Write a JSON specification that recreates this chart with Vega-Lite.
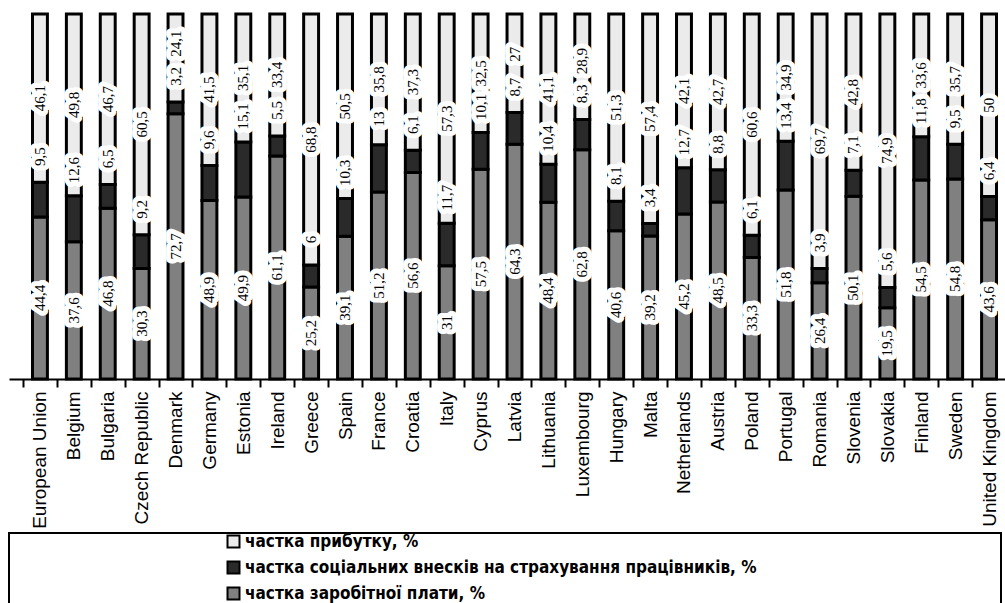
{
  "$schema": "https://vega.github.io/schema/vega-lite/v6.json",
  "padding": {"left": 0, "top": 12, "right": 0, "bottom": 0},
  "spacing": 3,
  "background": "white",
  "config": {"view": {"stroke": null}},
  "data": {"values": [
    {"c": "European Union", "w": 44.4, "s": 9.5, "p": 46.1},
    {"c": "Belgium", "w": 37.6, "s": 12.6, "p": 49.8},
    {"c": "Bulgaria", "w": 46.8, "s": 6.5, "p": 46.7},
    {"c": "Czech Republic", "w": 30.3, "s": 9.2, "p": 60.5},
    {"c": "Denmark", "w": 72.7, "s": 3.2, "p": 24.1},
    {"c": "Germany", "w": 48.9, "s": 9.6, "p": 41.5},
    {"c": "Estonia", "w": 49.9, "s": 15.1, "p": 35.1},
    {"c": "Ireland", "w": 61.1, "s": 5.5, "p": 33.4},
    {"c": "Greece", "w": 25.2, "s": 6, "p": 68.8},
    {"c": "Spain", "w": 39.1, "s": 10.3, "p": 50.5},
    {"c": "France", "w": 51.2, "s": 13, "p": 35.8},
    {"c": "Croatia", "w": 56.6, "s": 6.1, "p": 37.3},
    {"c": "Italy", "w": 31, "s": 11.7, "p": 57.3},
    {"c": "Cyprus", "w": 57.5, "s": 10.1, "p": 32.5},
    {"c": "Latvia", "w": 64.3, "s": 8.7, "p": 27},
    {"c": "Lithuania", "w": 48.4, "s": 10.4, "p": 41.1},
    {"c": "Luxembourg", "w": 62.8, "s": 8.3, "p": 28.9},
    {"c": "Hungary", "w": 40.6, "s": 8.1, "p": 51.3},
    {"c": "Malta", "w": 39.2, "s": 3.4, "p": 57.4},
    {"c": "Netherlands", "w": 45.2, "s": 12.7, "p": 42.1},
    {"c": "Austria", "w": 48.5, "s": 8.8, "p": 42.7},
    {"c": "Poland", "w": 33.3, "s": 6.1, "p": 60.6},
    {"c": "Portugal", "w": 51.8, "s": 13.4, "p": 34.9},
    {"c": "Romania", "w": 26.4, "s": 3.9, "p": 69.7},
    {"c": "Slovenia", "w": 50.1, "s": 7.1, "p": 42.8},
    {"c": "Slovakia", "w": 19.5, "s": 5.6, "p": 74.9},
    {"c": "Finland", "w": 54.5, "s": 11.8, "p": 33.6},
    {"c": "Sweden", "w": 54.8, "s": 9.5, "p": 35.7},
    {"c": "United Kingdom", "w": 43.6, "s": 6.4, "p": 50}
  ]},
  "transform": [
    {"fold": ["w", "s", "p"], "as": ["key", "value"]},
    {"calculate": "indexof(['w','s','p'], datum.key)", "as": "ord"},
    {"calculate": "datum.key == 'w' ? 'частка заробітної плати, %' : datum.key == 's' ? 'частка соціальних внесків на страхування працівників, %' : 'частка прибутку, %'", "as": "label"},
    {"joinaggregate": [{"op": "sum", "field": "value", "as": "total"}], "groupby": ["c"]},
    {"window": [{"op": "sum", "field": "value", "as": "cum"}], "sort": [{"field": "ord", "order": "ascending"}], "groupby": ["c"], "frame": [null, 0]},
    {"calculate": "(datum.cum - datum.value) / datum.total * 100", "as": "y1"},
    {"calculate": "datum.cum / datum.total * 100", "as": "y2"},
    {"calculate": "datum.key == 'w' ? (datum.y1 + datum.y2) / 2 : datum.key == 's' ? datum.y2 + 7 : max((datum.y1 + datum.y2) / 2, datum.y1 + 16)", "as": "ly"},
    {"calculate": "replace(toString(datum.value), '.', ',')", "as": "txt"}
  ],
  "resolve": {"scale": {"color": "shared"}, "legend": {"color": "independent"}},
  "vconcat": [
    {
      "width": 1011,
      "height": 365,
      "view": {"stroke": null},
      "encoding": {
        "x": {
          "field": "c", "type": "nominal", "title": null,
          "scale": {"paddingInner": 0, "paddingOuter": 0.413, "domain": ["European Union","Belgium","Bulgaria","Czech Republic","Denmark","Germany","Estonia","Ireland","Greece","Spain","France","Croatia","Italy","Cyprus","Latvia","Lithuania","Luxembourg","Hungary","Malta","Netherlands","Austria","Poland","Portugal","Romania","Slovenia","Slovakia","Finland","Sweden","United Kingdom"]},
          "axis": {
            "labelAngle": 270, "labelFont": "Liberation Sans", "labelFontSize": 19, "labelColor": "black",
            "labelPadding": 4, "labelLimit": 200,
            "domainColor": "black", "domainWidth": 2, "tickColor": "black", "tickWidth": 2, "tickSize": 8,
            "tickBand": "extent", "grid": false
          }
        }
      },
      "layer": [
        {
          "mark": {"type": "bar", "width": {"band": 0.44}, "stroke": "black", "strokeWidth": 3},
          "encoding": {
            "y": {"field": "y1", "type": "quantitative", "scale": {"domain": [0, 100], "nice": false}, "axis": null},
            "y2": {"field": "y2"},
            "color": {"field": "label", "type": "nominal", "legend": null,
                      "scale": {"domain": ["частка прибутку, %", "частка соціальних внесків на страхування працівників, %", "частка заробітної плати, %"],
                                "range": ["#ebebeb", "#2a2a2a", "#808080"]}}
          }
        },
        {
          "mark": {"type": "text", "angle": 270, "align": "center", "baseline": "middle", "font": "Liberation Serif", "fontSize": 15,
                   "stroke": "white", "strokeWidth": 10, "strokeJoin": "round", "fill": "white"},
          "encoding": {
            "y": {"field": "ly", "type": "quantitative"},
            "text": {"field": "txt"}
          }
        },
        {
          "mark": {"type": "text", "angle": 270, "align": "center", "baseline": "middle", "font": "Liberation Serif", "fontSize": 15, "fill": "black"},
          "encoding": {
            "y": {"field": "ly", "type": "quantitative"},
            "text": {"field": "txt"}
          }
        }
      ]
    },
    {
      "width": 992,
      "height": 90,
      "view": {"stroke": "black", "strokeWidth": 2},
      "mark": {"type": "square", "opacity": 0},
      "encoding": {
        "color": {
          "field": "label", "type": "nominal",
          "scale": {"domain": ["частка прибутку, %", "частка соціальних внесків на страхування працівників, %", "частка заробітної плати, %"],
                    "range": ["#ebebeb", "#2a2a2a", "#808080"]},
          "legend": {
            "orient": "none", "legendX": 216, "legendY": 0, "title": null, "padding": 0,
            "symbolType": "square", "symbolSize": 144, "rowPadding": 5, "labelOffset": 3,
            "labelFont": "DejaVu Sans Condensed", "labelFontSize": 17, "labelFontWeight": "bold", "labelColor": "black", "labelLimit": 800,
            "encode": {"symbols": {"update": {"stroke": {"value": "black"}, "strokeWidth": {"value": 2}, "opacity": {"value": 1}}}}
          }
        }
      }
    }
  ]
}
